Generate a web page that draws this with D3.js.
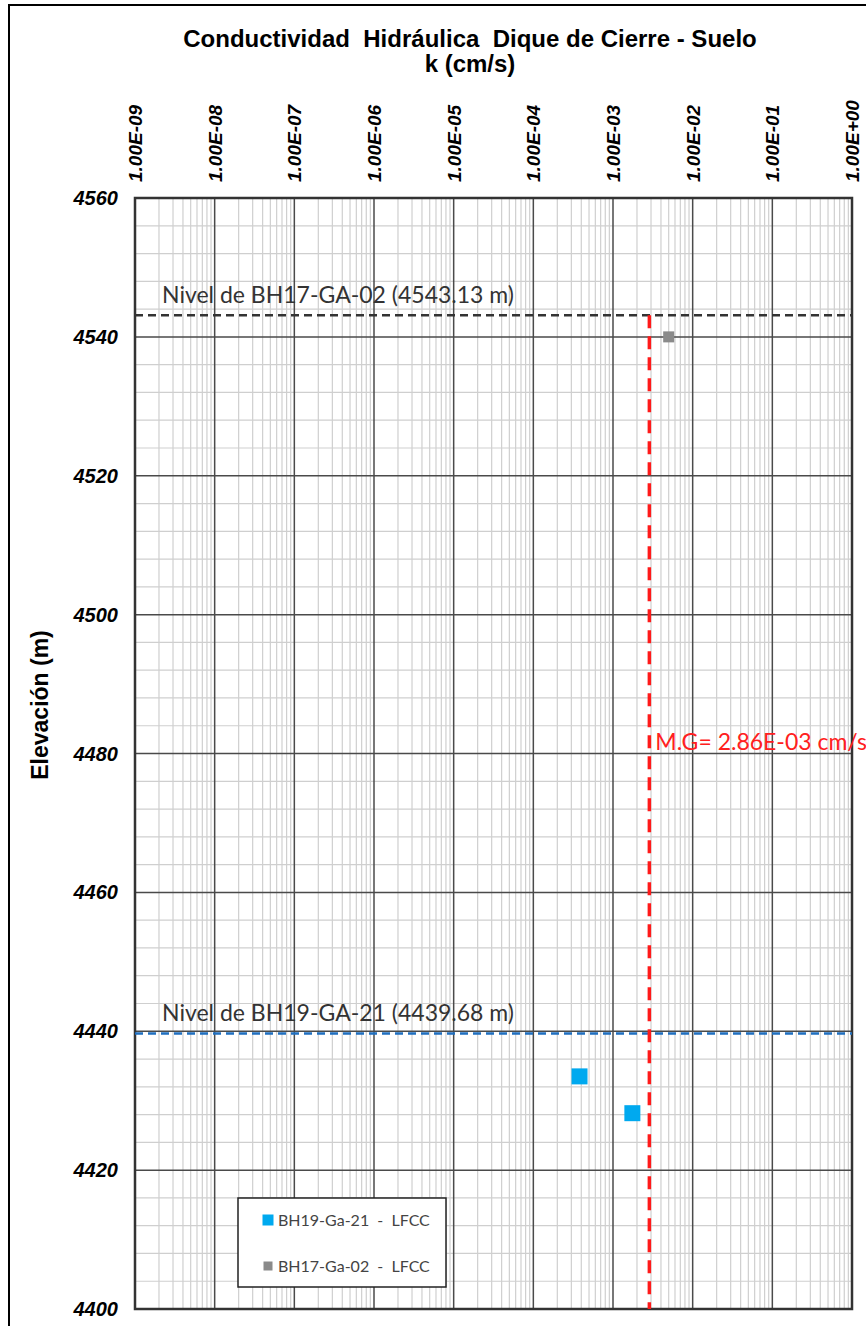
<!DOCTYPE html>
<html>
<head>
<meta charset="utf-8">
<script src="https://cdn.jsdelivr.net/npm/d3@7"></script>
<style>
body { margin: 0; background: #fff; }
svg { display: block; }
text { white-space: pre; }
</style>
</head>
<body>
<svg width="866" height="1326"></svg>
<script>
// data
var tickLabels = ["1.00E-09","1.00E-08","1.00E-07","1.00E-06","1.00E-05","1.00E-04","1.00E-03","1.00E-02","1.00E-01","1.00E+00"];
var tickValues = [1e-9,1e-8,1e-7,1e-6,1e-5,1e-4,1e-3,1e-2,1e-1,1];
var elevTicks = [4400,4420,4440,4460,4480,4500,4520,4540,4560];

var bh19K = [3.8e-4, 1.75e-3];
var bh19Elev = [4433.5, 4428.2];
var bh17K = [5.0e-3];
var bh17Elev = [4540];

var levelNames = ["Nivel de BH17-GA-02 (4543.13 m)", "Nivel de BH19-GA-21 (4439.68 m)"];
var levelElev = [4543.13, 4439.68];
var mgValue = 2.86e-3;
var mgLabel = "M.G= 2.86E-03 cm/s";

var legendNames = ["BH19-Ga-21  -  LFCC", "BH17-Ga-02  -  LFCC"];

var plotL = 135, plotR = 852, plotT = 198, plotB = 1309;

var svg = d3.select("svg");

var x = d3.scaleLog().domain([1e-9, 1]).range([plotL, plotR]);
var y = d3.scaleLinear().domain([4400, 4560]).range([plotB, plotT]);

// outer frame
svg.append("rect").attr("x", 9).attr("y", 5).attr("width", 900).attr("height", 1400)
    .attr("fill", "none").attr("stroke", "#000").attr("stroke-width", 2);

// title
var titleFont = "'Liberation Sans',Arial,sans-serif";
svg.append("text").attr("x", 470).attr("y", 47).attr("text-anchor", "middle")
    .style("font-family", titleFont)
    .style("font-weight", "bold").style("font-size", "24px")
    .text("Conductividad  Hidráulica  Dique de Cierre - Suelo");
svg.append("text").attr("x", 470).attr("y", 72).attr("text-anchor", "middle")
    .style("font-family", titleFont)
    .style("font-weight", "bold").style("font-size", "24px")
    .text("k (cm/s)");

// minor grid
var minorX = [];
tickValues.slice(0, -1).forEach(function(d) {
    for (var i = 2; i <= 9; i++) minorX.push(d * i);
});
var minorY = d3.range(4400, 4561, 4).filter(function(d) { return d % 20 != 0; });

var grid = svg.append("g");
grid.selectAll(".mx").data(minorX).enter().append("line")
    .attr("x1", d => x(d)).attr("x2", d => x(d))
    .attr("y1", plotT).attr("y2", plotB)
    .attr("stroke", "#cfcfcf").attr("stroke-width", 1.2);
grid.selectAll(".my").data(minorY).enter().append("line")
    .attr("x1", plotL).attr("x2", plotR)
    .attr("y1", d => y(d)).attr("y2", d => y(d))
    .attr("stroke", "#cfcfcf").attr("stroke-width", 1.2);

// major grid
grid.selectAll(".Mx").data(tickValues).enter().append("line")
    .attr("x1", d => x(d)).attr("x2", d => x(d))
    .attr("y1", plotT).attr("y2", plotB)
    .attr("stroke", "#4a4a4a").attr("stroke-width", 1.5);
grid.selectAll(".My").data(elevTicks).enter().append("line")
    .attr("x1", plotL).attr("x2", plotR)
    .attr("y1", d => y(d)).attr("y2", d => y(d))
    .attr("stroke", "#4a4a4a").attr("stroke-width", 1.5);

svg.append("rect").attr("x", plotL).attr("y", plotT)
    .attr("width", plotR - plotL).attr("height", plotB - plotT)
    .attr("fill", "none").attr("stroke", "#333").attr("stroke-width", 2.5);

// axes labels
var tickFont = "'Liberation Sans',Arial,sans-serif";
svg.append("g").selectAll("text").data(tickValues).enter().append("text")
    .attr("transform", function(d) { return "translate(" + (x(d) + 7) + ",182) rotate(-90)"; })
    .style("font-family", tickFont).style("font-weight", "bold").style("font-style", "italic")
    .style("font-size", "19px")
    .text(function(d, i) { return tickLabels[i]; });

svg.append("g").selectAll("text").data(elevTicks).enter().append("text")
    .attr("x", 118).attr("y", d => y(d)).attr("dy", "0.35em")
    .attr("text-anchor", "end")
    .style("font-family", tickFont).style("font-weight", "bold").style("font-style", "italic")
    .style("font-size", "20px")
    .text(d => d);

svg.append("text")
    .attr("transform", "translate(48,705) rotate(-90)")
    .attr("text-anchor", "middle")
    .style("font-family", tickFont).style("font-weight", "bold")
    .style("font-size", "23px")
    .text("Elevación (m)");

// level lines
var levelColors = ["#333", "#1f6fc0"];
var labelFont = "Lato,'Open Sans',sans-serif";
levelElev.forEach(function(e, i) {
    svg.append("line")
        .attr("x1", plotL).attr("x2", plotR)
        .attr("y1", y(e)).attr("y2", y(e))
        .attr("stroke", levelColors[i]).attr("stroke-width", 2.5)
        .attr("stroke-dasharray", "8,5");
    svg.append("text").attr("x", 162).attr("y", y(e) - 12)
        .style("font-family", labelFont).style("font-size", "23px")
        .attr("fill", "#333")
        .text(levelNames[i]);
});

// geometric mean line
svg.append("line")
    .attr("x1", x(mgValue)).attr("x2", x(mgValue))
    .attr("y1", y(levelElev[0])).attr("y2", plotB)
    .attr("stroke", "#ff1a1a").attr("stroke-width", 3.5)
    .attr("stroke-dasharray", "13,8");
svg.append("text").attr("x", x(mgValue) + 6).attr("y", 750)
    .style("font-family", labelFont).style("font-size", "23px")
    .attr("fill", "#ff2020")
    .text(mgLabel);

// points
svg.append("g").selectAll("rect").data(bh19K).enter().append("rect")
    .attr("x", d => x(d) - 8).attr("y", (d, i) => y(bh19Elev[i]) - 8)
    .attr("width", 16).attr("height", 16).attr("fill", "#00a9ef");
svg.append("g").selectAll("rect").data(bh17K).enter().append("rect")
    .attr("x", d => x(d) - 5.5).attr("y", (d, i) => y(bh17Elev[i]) - 5.5)
    .attr("width", 11).attr("height", 11).attr("fill", "#8a8a8a");

// legend
var lg = svg.append("g").attr("transform", "translate(238,1198)");
lg.append("rect").attr("width", 208).attr("height", 89)
    .attr("fill", "#fff").attr("stroke", "#222").attr("stroke-width", 1.5);
var legendColors = ["#00a9ef", "#8a8a8a"];
var legendSize = [11, 9];
legendNames.forEach(function(n, i) {
    var cy = 22 + i * 46;
    lg.append("rect").attr("x", 30 - legendSize[i] / 2).attr("y", cy - legendSize[i] / 2)
        .attr("width", legendSize[i]).attr("height", legendSize[i])
        .attr("fill", legendColors[i]);
    lg.append("text").attr("x", 40).attr("y", cy).attr("dy", "0.35em")
        .style("font-family", labelFont).style("font-size", "16px")
        .attr("fill", "#444")
        .text(n);
});
</script>
</body>
</html>
